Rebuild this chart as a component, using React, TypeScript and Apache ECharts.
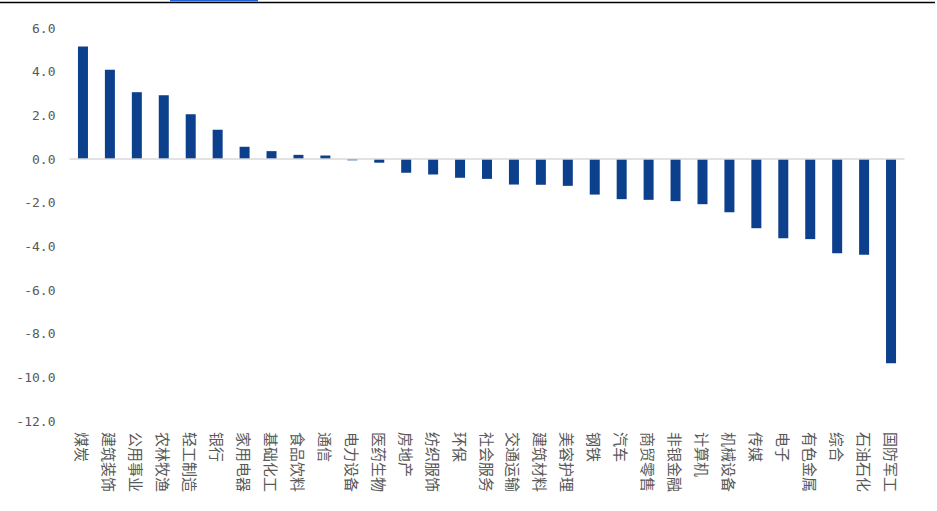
import React, { useEffect, useRef } from "react";
import * as echarts from "echarts";

const categories = [
  "煤炭", "建筑装饰", "公用事业", "农林牧渔", "轻工制造", "银行", "家用电器", "基础化工",
  "食品饮料", "通信", "电力设备", "医药生物", "房地产", "纺织服饰", "环保", "社会服务",
  "交通运输", "建筑材料", "美容护理", "钢铁", "汽车", "商贸零售", "非银金融", "计算机",
  "机械设备", "传媒", "电子", "有色金属", "综合", "石油石化", "国防军工",
];

const values = [
  5.15, 4.09, 3.06, 2.92, 2.05, 1.34, 0.56, 0.36,
  0.19, 0.16, -0.06, -0.17, -0.63, -0.71, -0.86, -0.91,
  -1.17, -1.18, -1.23, -1.63, -1.84, -1.87, -1.93, -2.07,
  -2.44, -3.17, -3.63, -3.67, -4.32, -4.39, -9.35,
];

const yMin = -12;
const yMax = 6;
const yStep = 2;

export default function App() {
  const ref = useRef<HTMLDivElement>(null);

  useEffect(() => {
    document.body.style.margin = "0";
    if (!ref.current) return;
    const chart = echarts.init(ref.current, null, { renderer: "svg" });
    chart.setOption({
      animation: false,
      backgroundColor: "#ffffff",
      grid: { left: 69.5, right: 32.5, top: 28, bottom: 90, containLabel: false },
      graphic: [
        {
          type: "line",
          shape: { x1: 0, y1: 2.5, x2: 935, y2: 2.5 },
          style: { stroke: "#000000", lineWidth: 1.5 },
          silent: true,
        },
        {
          type: "rect",
          shape: { x: 170, y: 0, width: 88, height: 1.5 },
          style: { fill: "#1f62d8" },
          silent: true,
        },
      ],
      xAxis: {
        type: "category",
        data: categories,
        position: "bottom",
        axisLine: { show: false, onZero: false },
        axisTick: { show: false },
        axisLabel: {
          rotate: -90,
          interval: 0,
          margin: 11,
          fontSize: 15,
          color: "#595959",
          fontFamily: "Noto Sans CJK SC",
        },
      },
      yAxis: {
        type: "value",
        min: yMin,
        max: yMax,
        interval: yStep,
        axisLine: { show: false },
        axisTick: { show: false },
        splitLine: { show: false },
        axisLabel: {
          margin: 14,
          fontSize: 13,
          color: "#595959",
          fontFamily: "DejaVu Sans Mono",
          formatter: (v: number) => v.toFixed(1),
        },
      },
      series: [
        {
          type: "bar",
          data: values,
          barWidth: 10,
          itemStyle: { color: "#0c3f8c" },
          markLine: {
            silent: true,
            symbol: "none",
            label: { show: false },
            lineStyle: { color: "#d9d9d9", width: 1.5, type: "solid" },
            data: [{ yAxis: 0 }],
          },
        },
      ],
    });
    return () => chart.dispose();
  }, []);

  return <div ref={ref} style={{ width: 937, height: 511 }} />;
}
